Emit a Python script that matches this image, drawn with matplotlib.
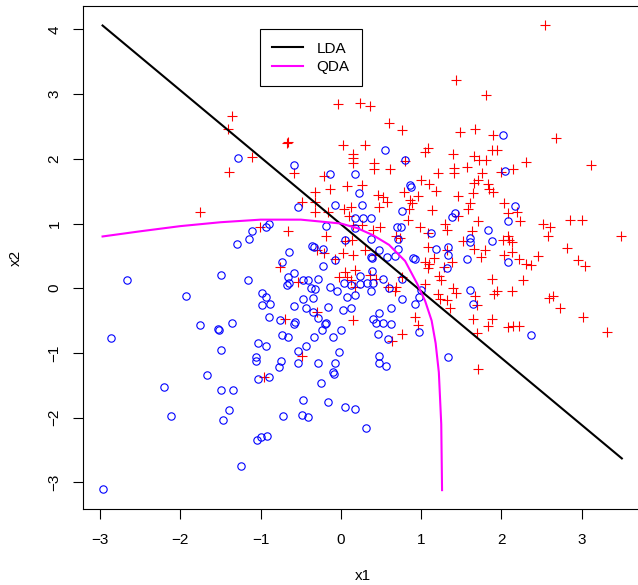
import matplotlib
matplotlib.use("Agg")
import matplotlib.pyplot as plt
from matplotlib.lines import Line2D

plt.rcParams['font.family'] = ['Liberation Sans', 'DejaVu Sans']

# class 1 (red crosses)
red_x1 = [-1.36, -1.41, -1.11, -1.40, -0.04, 0.24, 0.36, 0.60, 0.76, -0.66,
          -0.67, 0.02, 0.30, 0.15, 0.15, 0.15, 0.41, 0.41, 0.61, 0.80,
          1.09, 1.05, 1.21, -0.59, 2.54, 1.43, 1.81, 1.48, 1.67, 1.90,
          2.68, 1.40, 1.66, 1.72, 1.81, 1.88, 1.94, 2.31, 3.11, 1.41,
          1.57, 1.76, 2.15, 1.41, -1.76, -1.01, -0.21, 0.08, 0.26, 1.00,
          1.10, 1.18, -0.32, -0.13, 0.46, 0.53, 0.58, 0.78, 0.86, 0.88,
          0.96, -0.49, -0.32, -0.32, -0.16, 0.04, 0.13, 0.47, 0.85, 1.13,
          0.10, 0.84, 1.30, 0.15, 0.26, 0.40, 0.49, 0.98, 1.09, 1.32,
          -0.66, -0.19, 0.05, 0.14, 0.69, 0.74, 0.30, -0.30, -0.21, 1.09,
          1.32, 0.02, 0.15, -0.07, 0.42, 1.16, 1.05, 1.10, 1.09, -0.76,
          1.29, 0.05, -0.53, -0.02, 0.17, 0.08, 0.12, 0.36, 0.44, 0.76,
          1.22, 1.25, 0.17, 0.59, 0.69, 0.67, 1.05, 1.21, 1.23, -0.30,
          -0.70, 0.15, 0.92, 0.96, 1.71, 1.66, 1.83, 1.90, 1.84, 1.46,
          1.64, 1.61, 1.58, 2.03, 2.08, 2.19, 2.23, 1.46, 1.71, 1.63,
          1.52, 1.66, 1.79, 1.75, 2.02, 2.09, 2.13, 2.08, 2.03, 2.13,
          2.22, 2.31, 2.37, 2.46, 1.39, 2.52, 2.60, 2.58, 2.86, 3.00,
          3.49, 2.82, 2.96, 3.04, 1.88, 2.27, 1.40, 1.43, 1.67, 1.91,
          1.95, 2.13, 1.69, 1.32, 1.36, 2.59, 2.64, 2.73, 1.65, 1.88,
          1.83, 2.08, 2.15, 2.22, 3.02, 3.31, 1.69, 1.99, -0.96, -0.49,
          0.76, 0.64, 1.71]
red_x2 = [2.66, 2.46, 2.03, 1.79, 2.85, 2.87, 2.82, 2.56, 2.44, 2.26,
          2.24, 2.22, 2.21, 2.07, 2.01, 1.94, 1.93, 1.84, 1.84, 1.97,
          2.16, 2.10, 1.78, 1.78, 4.07, 3.22, 2.98, 2.42, 2.46, 2.37,
          2.32, 2.08, 2.05, 1.98, 1.98, 2.14, 2.14, 1.95, 1.90, 1.86,
          1.88, 1.78, 1.84, 1.78, 1.18, 0.95, 1.73, 1.58, 1.60, 1.67,
          1.61, 1.51, 1.49, 1.53, 1.44, 1.41, 1.34, 1.49, 1.36, 1.31,
          1.42, 1.34, 1.34, 1.18, 1.18, 1.22, 1.26, 1.26, 1.23, 1.21,
          1.12, 1.06, 1.00, 0.98, 0.98, 0.90, 0.95, 0.94, 0.86, 0.90,
          0.88, 0.80, 0.73, 0.75, 0.80, 0.77, 0.59, 0.59, 0.54, 0.63,
          0.59, 0.54, 0.51, 0.45, 0.51, 0.46, 0.41, 0.37, 0.32, 0.33,
          0.33, 0.25, 0.10, 0.18, 0.28, 0.17, 0.13, 0.20, 0.15, 0.18,
          0.19, 0.13, 0.02, 0.02, 0.02, -0.05, 0.06, -0.09, -0.16, -0.36,
          -0.48, -0.49, -0.44, -0.57, 1.68, 1.62, 1.61, 1.49, 1.54, 1.42,
          1.47, 1.31, 1.23, 1.31, 1.16, 1.18, 1.04, 1.11, 1.04, 0.89,
          0.73, 0.60, 0.59, 0.48, 0.74, 0.74, 0.72, 0.80, 0.51, 0.56,
          0.45, 0.37, 0.36, 0.50, 0.41, 1.00, 0.95, 0.80, 1.05, 1.06,
          0.80, 0.62, 0.44, 0.34, 0.14, 0.13, 0.01, -0.08, -0.12, -0.09,
          -0.05, -0.04, -0.26, -0.18, -0.30, -0.15, -0.12, -0.31, -0.47, -0.48,
          -0.58, -0.60, -0.59, -0.59, -0.44, -0.67, -0.69, 1.80, -1.37, -1.05,
          -0.70, -0.82, -1.25]

# class 2 (blue circles)
blue_x1 = [-1.28, 0.55, 0.80, -0.59, -0.14, 0.18, 2.02, 2.05, -1.11, -1.15,
           -1.30, -0.93, -2.67, -1.50, -1.16, -1.93, -0.98, -0.93, -0.98, -0.89,
           -0.90, -1.76, -1.36, -1.53, -1.52, 0.86, 0.87, 0.22, -0.53, -0.07,
           0.26, 0.76, 0.17, 0.28, 0.37, -0.90, -0.19, 0.17, 0.70, 0.75,
           1.12, 0.05, 0.37, 0.71, -0.36, -0.34, -0.22, 0.47, 0.71, 1.18,
           -0.65, -0.07, 0.37, 0.39, 0.57, 0.67, 0.90, 0.92, -0.73, -0.22,
           -0.58, -0.66, -0.41, -0.47, -0.28, 0.24, 0.39, 0.53, 0.76, -0.67,
           -0.65, -0.37, -0.32, -0.14, 0.04, 0.12, 0.24, 0.32, 0.40, 0.38,
           0.60, 1.00, -0.47, -0.35, -0.05, 0.08, 0.18, 0.76, 0.97, -0.58,
           -0.43, -0.35, -0.16, 0.02, 0.12, 0.62, 0.92, -0.76, -0.57, -0.29,
           -0.18, -0.20, 0.40, 0.47, 0.44, 0.53, 0.63, -0.58, 2.17, 2.08,
           1.42, 1.39, 1.83, 1.61, 1.61, 1.88, 1.34, 1.33, 1.57, 2.08,
           1.32, 1.61, 1.65, 2.37, -2.87, -1.50, -1.03, -0.93, -1.06, -1.06,
           -1.67, -1.03, -0.90, -2.21, -1.49, -1.35, -1.39, -1.47, -2.12, -1.04,
           -1.00, -0.92, -1.25, -2.96, -0.73, -0.66, -0.33, -0.23, -0.10, 0.00,
           0.46, 0.59, 0.97, -0.53, -0.44, -0.02, -0.75, -0.77, -0.54, -0.28,
           -0.07, 0.48, 0.47, 0.56, 1.33, -0.10, -0.09, -0.25, -0.47, -0.16,
           0.05, 0.18, -0.72, -0.48, -0.41, 0.31]
blue_x2 = [2.02, 2.14, 1.98, 1.90, 1.76, 1.76, 2.37, 1.81, 0.88, 0.76,
           0.68, 0.95, 0.13, 0.21, 0.13, -0.12, -0.07, -0.13, -0.26, -0.25,
           -0.45, -0.57, -0.54, -0.63, -0.65, 1.59, 1.56, 1.47, 1.25, 1.29,
           1.29, 1.20, 1.08, 1.08, 1.08, 1.00, 0.96, 0.93, 0.95, 0.94,
           0.85, 0.75, 0.76, 0.76, 0.65, 0.63, 0.60, 0.59, 0.61, 0.60,
           0.56, 0.44, 0.49, 0.46, 0.49, 0.50, 0.46, 0.45, 0.41, 0.34,
           0.23, 0.17, 0.13, 0.12, 0.15, 0.19, 0.26, 0.15, 0.14, 0.05,
           0.08, 0.01, -0.01, 0.02, 0.08, 0.05, 0.06, 0.08, 0.08, -0.04,
           0.01, -0.03, -0.16, -0.15, -0.04, -0.14, -0.10, -0.16, -0.13, -0.28,
           -0.31, -0.36, -0.29, -0.33, -0.30, -0.30, -0.25, -0.49, -0.52, -0.46,
           -0.53, -0.55, -0.47, -0.39, -0.53, -0.54, -0.55, -0.55, 1.27, 1.04,
           1.16, 1.10, 0.90, 0.77, 0.72, 0.73, 0.63, 0.51, 0.45, 0.41,
           0.32, -0.02, -0.25, -0.72, -0.77, -0.95, -0.84, -0.89, -1.06, -1.13,
           -1.34, -1.41, -1.37, -1.53, -1.58, -1.57, -1.88, -2.04, -1.98, -2.34,
           -2.30, -2.28, -2.74, -3.11, -0.72, -0.76, -0.75, -0.65, -0.76, -0.65,
           -0.71, -0.78, -0.67, -0.97, -0.90, -0.98, -1.13, -1.21, -1.15, -1.16,
           -1.15, -1.05, -1.16, -1.20, -1.07, -1.29, -1.32, -1.47, -1.72, -1.76,
           -1.83, -1.87, -1.97, -1.96, -1.99, -2.16]

# decision boundaries
lda_x1 = [-2.97, 3.50]
lda_x2 = [4.06, -2.63]
qda_x1 = [-2.97, -2.5, -2.0, -1.5, -1.0, -0.5, 0.0, 0.2, 0.4, 0.6,
          0.8, 0.95, 1.05, 1.13, 1.18, 1.22, 1.25, 1.26]
qda_x2 = [0.80, 0.88, 0.96, 1.02, 1.06, 1.06, 1.00, 0.93, 0.82, 0.67,
          0.42, 0.07, -0.20, -0.50, -0.85, -1.30, -2.10, -3.12]

fig = plt.figure(figsize=(6.38, 5.85), dpi=100)
ax = fig.add_axes([82.5 / 638, (585 - 508.9) / 585, 560.2 / 638, 502.8 / 585])

ax.plot(red_x1, red_x2, linestyle='none', marker='+', color='#FF0000', ms=7.2, mew=0.8)
ax.plot(blue_x1, blue_x2, linestyle='none', marker='o', mfc='none', mec='#0000FF', ms=5.3, mew=0.8)
ax.plot(lda_x1, lda_x2, color='black', lw=1.5)
ax.plot(qda_x1, qda_x2, color='#FF00FF', lw=1.5)

ax.set_xlim(-3.22, 3.76)
ax.set_ylim(-3.41, 4.36)
ax.set_xticks([-3, -2, -1, 0, 1, 2, 3])
ax.set_yticks([-3, -2, -1, 0, 1, 2, 3, 4])
ax.set_yticklabels(['\u22123', '\u22122', '\u22121', '0', '1', '2', '3', '4'])
ax.set_xticklabels(['\u22123', '\u22122', '\u22121', '0', '1', '2', '3'])
ax.tick_params(axis='both', length=7.2, width=0.8, labelsize=11)
ax.tick_params(axis='x', pad=10)
ax.tick_params(axis='y', pad=8)
for lab in ax.get_yticklabels():
    lab.set_rotation(90)
    lab.set_va('center')
for sp in ax.spines.values():
    sp.set_linewidth(0.8)

fig.text(362.6 / 638, 1 - 576 / 585, 'x1', ha='center', va='center', fontsize=11)
fig.text(16 / 638, 1 - 257.5 / 585, 'x2', ha='center', va='center', fontsize=11, rotation=90)

handles = [Line2D([], [], color='black', lw=1.5), Line2D([], [], color='#FF00FF', lw=1.5)]
ax.legend(handles, ['LDA', 'QDA'], loc='upper left', bbox_to_anchor=(0.3169, 0.9539),
          borderaxespad=0, fancybox=False, edgecolor='black', framealpha=1,
          fontsize=11, handlelength=2.0, handletextpad=0.9, borderpad=0.8,
          labelspacing=0.3)
ax.get_legend().get_frame().set_linewidth(0.8)

fig.savefig('out.png', dpi=100)
